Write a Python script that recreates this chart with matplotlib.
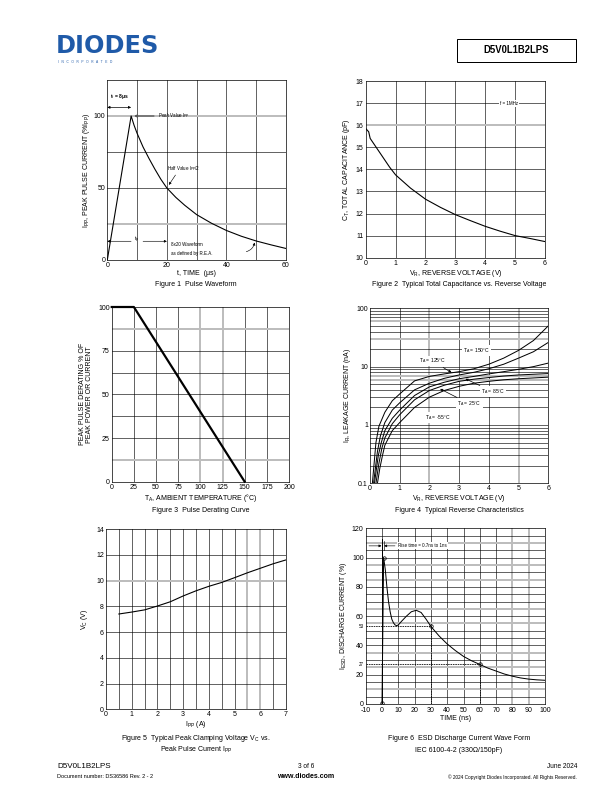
import matplotlib
matplotlib.use("Agg")
import matplotlib.pyplot as plt
import numpy as np
from matplotlib.patches import Rectangle

plt.rcParams["font.family"] = ["Liberation Sans", "DejaVu Sans"]
plt.rcParams["mathtext.fontset"] = "custom"
plt.rcParams["mathtext.rm"] = "Liberation Sans"
plt.rcParams["mathtext.it"] = "Liberation Sans"

# ---- data ----
# Fig 1 pulse waveform
f1_t = [0, 8, 9, 10, 12, 14, 16, 18, 20, 23, 26, 30, 35, 40, 45, 50, 55, 60]
f1_i = [0, 100, 93.5, 88, 78.5, 70.5, 63, 56, 50, 43.5, 38, 31.5, 25.5, 20.5, 16.5, 13.2, 10.5, 8]

# Fig 2 capacitance vs reverse voltage
f2_v = [0, 0.1, 0.15, 0.3, 0.5, 0.8, 1, 1.5, 2, 2.5, 3, 3.5, 4, 4.5, 5, 5.5, 6]
f2_c = [15.85, 15.7, 15.4, 15.1, 14.7, 14.1, 13.75, 13.15, 12.65, 12.28, 11.95,
        11.68, 11.42, 11.2, 11.0, 10.87, 10.73]

# Fig 3 derating
f3_t = [0, 25, 150]
f3_p = [100, 100, 0]

# Fig 4 leakage current
f4_labels = ["150", "125", "85", "25", "-55"]
f4_v = {
    "150": [0.08, 0.2, 0.3, 0.5, 0.75, 1, 1.5, 2, 2.5, 3, 3.5, 4, 4.5, 5, 5.5, 6],
    "125": [0.12, 0.25, 0.35, 0.5, 0.75, 1, 1.5, 2, 2.5, 3, 3.5, 4, 4.5, 5, 5.5, 6],
    "85": [0.15, 0.28, 0.38, 0.5, 0.75, 1, 1.5, 2, 2.5, 3, 3.5, 4, 4.5, 5, 5.5, 6],
    "25": [0.2, 0.3, 0.4, 0.5, 0.75, 1, 1.5, 2, 2.5, 3, 3.5, 4, 4.5, 5, 5.5, 6],
    "-55": [0.25, 0.33, 0.42, 0.5, 0.75, 1, 1.5, 2, 2.5, 3, 3.5, 4, 4.5, 5, 5.5, 6],
}
f4_i = {
    "150": [0.1, 0.5, 0.95, 1.65, 2.6, 3.4, 5.7, 6.8, 7.5, 8.2, 9.2, 11, 14, 19, 28, 50],
    "125": [0.1, 0.35, 0.65, 1.1, 1.8, 2.4, 4.0, 5.2, 6.3, 7.2, 8.0, 9.2, 11, 14, 18, 26],
    "85": [0.1, 0.3, 0.5, 0.8, 1.3, 1.8, 3.2, 4.5, 5.4, 6.2, 6.8, 7.5, 8.2, 9.0, 10, 11.5],
    "25": [0.1, 0.22, 0.4, 0.6, 1.05, 1.5, 2.7, 3.9, 4.8, 5.6, 6.1, 6.5, 6.9, 7.2, 7.4, 7.6],
    "-55": [0.1, 0.18, 0.3, 0.45, 0.8, 1.1, 2.0, 3.0, 3.9, 4.6, 5.2, 5.6, 5.95, 6.2, 6.4, 6.6],
}

# Fig 5 clamping voltage
f5_i = [0.5, 1, 1.5, 2, 2.5, 3, 3.5, 4, 4.5, 5, 5.5, 6, 6.5, 7]
f5_v = [7.4, 7.55, 7.72, 8.02, 8.35, 8.8, 9.2, 9.55, 9.85, 10.22, 10.6, 10.95, 11.3, 11.6]

# Fig 6 ESD waveform
f6_t = [0, 1, 2, 3, 4, 5, 6, 7, 8, 9, 10, 12, 15, 18, 21, 24, 27, 30, 35, 40, 45,
        50, 55, 60, 65, 70, 75, 80, 85, 90, 95, 100]
f6_i = [0, 100, 92, 80, 70, 63, 58, 55.5, 54, 53.5, 54, 56.5, 60, 63, 64, 62.5, 58,
        53, 46.5, 41, 36.5, 32.5, 29.5, 27, 24.5, 22.5, 20.5, 19, 17.8, 17, 16.5, 16.2]
f6_marks_t = [0, 1, 30, 60]
f6_marks_i = [1, 100, 53, 27]

W, H = 612, 792
fig = plt.figure(figsize=(W / 72, H / 72), dpi=72)
GRAY = "#bdbdbd"
FS = 7
SM = 5


def px(x0, y0, x1, y1):
    return [x0 / W, 1 - y1 / H, (x1 - x0) / W, (y1 - y0) / H]


def gridlines(ax, xs, ys, gx=(), gy=()):
    for x in xs:
        g = x in gx
        ax.axvline(x, color=GRAY if g else "black", lw=2.0 if g else 0.6, zorder=1)
    for y in ys:
        g = y in gy
        ax.axhline(y, color=GRAY if g else "black", lw=2.0 if g else 0.6, zorder=1)


def style(ax):
    ax.tick_params(length=0, labelsize=FS, pad=2)
    for s in ax.spines.values():
        s.set_linewidth(0.7)


def ftext(x, y, s, **kw):
    fig.text(x / W, 1 - y / H, s, **kw)


# ---- header ----
ftext(56, 46, "DIODES", fontsize=24, fontweight="bold", color="#1f5aa8",
      va="center", ha="left", family="DejaVu Sans")
ftext(58, 62, "I   N   C   O   R   P   O   R   A   T   E   D", fontsize=3.3,
      color="#1f5aa8", va="center", ha="left")
fig.patches.append(Rectangle((457 / W, 1 - 62 / H), 119 / W, 23 / H, fill=False,
                             lw=1.0, edgecolor="black", transform=fig.transFigure))
ftext(516, 50, "D5V0L1B2LPS", fontsize=9.5, fontweight="bold", ha="center", va="center")

# ---- Figure 1 ----
ax = fig.add_axes(px(107.3, 80, 286, 260))
gridlines(ax, [10, 20, 30, 40, 50], [25, 50, 75, 100], gy=(25, 100))
ax.plot(f1_t, f1_i, color="black", lw=1.1, zorder=3)
ax.set_xlim(0, 60); ax.set_ylim(0, 125)
ax.set_xticks([0, 20, 40, 60]); ax.set_yticks([0, 50, 100])
style(ax)
ax.set_xlabel("t, TIME  (μs)", fontsize=FS, labelpad=1)
ax.set_ylabel("I$_{PP}$, PEAK PULSE CURRENT (%I$_{PP}$)", fontsize=FS, labelpad=2)
ax.text(1, 113.5, "t$_r$ = 8μs", fontsize=SM, fontweight="bold", va="center")
ax.annotate("", xy=(0, 106), xytext=(8, 106),
            arrowprops=dict(arrowstyle="<|-|>", lw=0.7, color="black", mutation_scale=5,
                            shrinkA=0, shrinkB=0))
ax.annotate("Peak Value I$_{PP}$", xy=(8.3, 100), xytext=(17, 100), fontsize=SM - 0.5,
            va="center",
            arrowprops=dict(arrowstyle="-|>", lw=1.3, color="#555555", mutation_scale=5))
ax.annotate("Half Value I$_{PP}$/2", xy=(20.3, 51), xytext=(20, 63.5), fontsize=SM - 0.5,
            va="center",
            arrowprops=dict(arrowstyle="-|>", lw=0.6, color="black", mutation_scale=5,
                            shrinkA=0, relpos=(0.3, 0)))
ax.annotate("", xy=(0, 13), xytext=(8, 13),
            arrowprops=dict(arrowstyle="-|>", lw=0.6, color="black", mutation_scale=5,
                            shrinkA=0, shrinkB=0))
ax.annotate("", xy=(20, 13), xytext=(12, 13),
            arrowprops=dict(arrowstyle="-|>", lw=0.6, color="black", mutation_scale=5,
                            shrinkA=0, shrinkB=0))
ax.text(10, 14, "t$_p$", fontsize=SM + 0.5, ha="center", va="center")
ax.text(21.5, 10.5, "8x20 Waveform", fontsize=SM - 0.5, va="center")
ax.text(21.5, 4.5, "as defined by R.E.A.", fontsize=SM - 0.5, va="center")
ax.annotate("", xy=(49.5, 13.5), xytext=(46, 5.5),
            arrowprops=dict(arrowstyle="-|>", lw=0.6, color="black", mutation_scale=5,
                            connectionstyle="arc3,rad=0.4"))
ftext(196, 284, "Figure 1  Pulse Waveform", fontsize=FS, ha="center", va="center")

# ---- Figure 2 ----
ax = fig.add_axes(px(365.7, 81, 545, 257.7))
gridlines(ax, [1, 2, 3, 4, 5], [11, 12, 13, 14, 15, 16, 17], gy=(16,))
ax.plot(f2_v, f2_c, color="black", lw=1.1, zorder=3)
ax.set_xlim(0, 6); ax.set_ylim(10, 18)
ax.set_xticks(range(7)); ax.set_yticks(range(10, 19))
style(ax)
ax.set_xlabel("V$_R$, REVERSE VOLTAGE (V)", fontsize=FS, labelpad=1)
ax.set_ylabel("C$_T$, TOTAL CAPACITANCE (pF)", fontsize=FS, labelpad=4)
ax.text(4.8, 17, "f = 1MHz", fontsize=SM - 0.5, ha="center", va="center", zorder=4,
        bbox=dict(facecolor="white", edgecolor="none", pad=1))
ftext(459, 284, "Figure 2  Typical Total Capacitance vs. Reverse Voltage", fontsize=FS,
      ha="center", va="center")

# ---- Figure 3 ----
ax = fig.add_axes(px(111.7, 307, 289, 481.7))
gridlines(ax, [25, 50, 75, 100, 125, 150, 175], [12.5, 25, 37.5, 50, 62.5, 75, 87.5],
          gx=(100, 125), gy=(12.5, 87.5))
ax.plot(f3_t, f3_p, color="black", lw=2.2, zorder=3, clip_on=False)
ax.set_xlim(0, 200); ax.set_ylim(0, 100)
ax.set_xticks(range(0, 201, 25)); ax.set_yticks([0, 25, 50, 75, 100])
style(ax)
ax.set_xlabel("T$_A$, AMBIENT TEMPERATURE (°C)", fontsize=FS, labelpad=1)
ax.set_ylabel("PEAK PULSE DERATING % OF\nPEAK POWER OR CURRENT", fontsize=FS, labelpad=5,
              linespacing=1.1)
ftext(201, 510, "Figure 3  Pulse Derating Curve", fontsize=FS, ha="center", va="center")

# ---- Figure 4 ----
ax = fig.add_axes(px(370, 308.3, 548.3, 483.3))
ax.set_yscale("log")
ylog = [m * 10.0 ** e for e in (-1, 0, 1) for m in range(1, 10)][1:]
gridlines(ax, [1, 2, 3, 4, 5], ylog, gx=(2, 5), gy=(30.0, 60.0, 6.0, 7.0))
for k in f4_labels:
    ax.plot(f4_v[k], f4_i[k], color="black", lw=1.0, zorder=3)
ax.set_xlim(0, 6); ax.set_ylim(0.1, 100)
ax.set_xticks(range(7)); ax.set_yticks([0.1, 1, 10, 100])
ax.set_yticklabels(["0.1", "1", "10", "100"])
ax.minorticks_off()
style(ax)
ax.set_xlabel("V$_R$, REVERSE VOLTAGE (V)", fontsize=FS, labelpad=1)
ax.set_ylabel("I$_R$, LEAKAGE CURRENT (nA)", fontsize=FS, labelpad=3)
bb = dict(facecolor="white", edgecolor="none", pad=1)
arw = dict(arrowstyle="-|>", lw=0.7, color="black", mutation_scale=5)
ax.text(3.6, 19, "T$_A$ = 150°C", fontsize=SM, ha="center", va="center", zorder=4, bbox=bb)
ax.annotate("T$_A$ = 125°C", xy=(2.8, 7.6), xytext=(2.1, 12.5), fontsize=SM, ha="center",
            va="center", zorder=4, bbox=bb, arrowprops=arw)
ax.annotate("T$_A$ = 85°C", xy=(3.15, 6.4), xytext=(4.15, 3.7), fontsize=SM, ha="center",
            va="center", zorder=4, bbox=bb, arrowprops=arw)
ax.annotate("T$_A$ = 25°C", xy=(2.3, 4.3), xytext=(3.35, 2.3), fontsize=SM, ha="center",
            va="center", zorder=4, bbox=bb, arrowprops=arw)
ax.text(2.3, 1.35, "T$_A$ = -55°C", fontsize=SM, ha="center", va="center", zorder=4, bbox=bb)
ftext(459, 510, "Figure 4  Typical Reverse Characteristics", fontsize=FS,
      ha="center", va="center")

# ---- Figure 5 ----
ax = fig.add_axes(px(106, 529, 286, 709.3))
gridlines(ax, np.arange(0.5, 7, 0.5), [2, 4, 6, 8, 10, 12], gx=(5.5, 6.0), gy=(10,))
ax.plot(f5_i, f5_v, color="black", lw=1.1, zorder=3)
ax.set_xlim(0, 7); ax.set_ylim(0, 14)
ax.set_xticks(range(8)); ax.set_yticks(range(0, 15, 2))
style(ax)
ax.set_xlabel("I$_{PP}$ (A)", fontsize=FS, labelpad=1)
ax.set_ylabel("V$_C$ (V)", fontsize=FS, labelpad=6)
ftext(196, 738, "Figure 5  Typical Peak Clamping Voltage V$_C$ vs.", fontsize=FS,
      ha="center", va="center")
ftext(196, 750, "Peak Pulse Current I$_{PP}$", fontsize=FS, ha="center", va="center")

# ---- Figure 6 ----
ax = fig.add_axes(px(365.7, 528.3, 545, 704))
gridlines(ax, range(0, 100, 10), range(5, 120, 5), gx=(80, 90),
          gy=(10, 25, 35, 55, 65, 85, 95, 110))
ax.plot(f6_t, f6_i, color="black", lw=1.0, zorder=3)
ax.plot([0, 0], [0, 113], color="black", lw=1.0, zorder=3)
ax.plot(f6_marks_t, f6_marks_i, "o", ms=3.5, mfc="none", mec="black", mew=0.7, zorder=4)
ax.plot([-10, 30, 30], [53, 53, 0], ls=(0, (2, 1)), color="black", lw=0.8, zorder=3)
ax.plot([-10, 60, 60], [27, 27, 0], ls=(0, (2, 1)), color="black", lw=0.8, zorder=3)
ax.set_xlim(-10, 100); ax.set_ylim(0, 120)
ax.set_xticks(range(-10, 101, 10)); ax.set_yticks([0, 20, 27, 40, 53, 60, 80, 100, 120])
ax.set_yticklabels(["0", "20", "27", "40", "53", "60", "80", "100", "120"])
ax.set_xticklabels(["-10"] + [str(v) for v in range(0, 101, 10)])
style(ax)
ax.tick_params(axis="x", pad=3.5)
for lab in ax.get_yticklabels():
    if lab.get_text() in ("27", "53"):
        lab.set_fontsize(SM - 0.5)
ax.set_xlabel("TIME (ns)", fontsize=FS, labelpad=0)
ax.set_ylabel("I$_{ESD}$, DISCHARGE CURRENT (%)", fontsize=FS, labelpad=3)
ax.annotate("", xy=(-0.3, 108), xytext=(-8, 108),
            arrowprops=dict(arrowstyle="-|>", lw=0.6, color="black", mutation_scale=5,
                            shrinkA=0, shrinkB=0))
ax.annotate("", xy=(1.3, 108), xytext=(8, 108),
            arrowprops=dict(arrowstyle="-|>", lw=0.6, color="black", mutation_scale=5,
                            shrinkA=0, shrinkB=0))
ax.plot([1, 1], [105, 111], color="black", lw=0.6, zorder=3)
ax.text(10, 108, "Rise time = 0.7ns to 1ns", fontsize=SM - 0.5, va="center", zorder=4,
        bbox=bb)
ftext(459, 738, "Figure 6  ESD Discharge Current Wave Form", fontsize=FS,
      ha="center", va="center")
ftext(459, 750, "IEC 6100-4-2 (330Ω/150pF)", fontsize=FS, ha="center", va="center")

# ---- footer ----
ftext(57, 767, "D5V0L1B2LPS", fontsize=8, va="center")
ftext(57, 777, "Document number: DS36586 Rev. 2 - 2", fontsize=5.5, va="center")
ftext(306, 767, "3 of 6", fontsize=6.5, ha="center", va="center")
ftext(306, 777, "www.diodes.com", fontsize=7, fontweight="bold", ha="center", va="center")
ftext(577, 767, "June 2024", fontsize=6.5, ha="right", va="center")
ftext(577, 777, "© 2024 Copyright Diodes Incorporated. All Rights Reserved.", fontsize=4.8,
      ha="right", va="center")

fig.savefig("out.png", dpi=72)
